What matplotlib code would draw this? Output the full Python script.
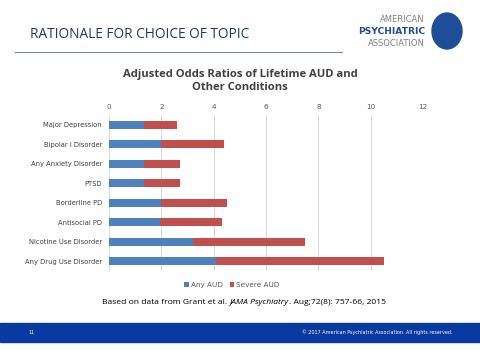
import matplotlib
matplotlib.use("Agg")
import matplotlib.pyplot as plt
from matplotlib.patches import Rectangle, Ellipse

categories = ["Major Depression", "Bipolar I Disorder", "Any Anxiety Disorder", "PTSD",
              "Borderline PD", "Antisocial PD", "Nicotine Use Disorder", "Any Drug Use Disorder"]
any_aud = [1.35, 2.0, 1.35, 1.35, 2.0, 1.95, 3.2, 4.1]
severe_aud = [2.6, 4.4, 2.7, 2.7, 4.5, 4.3, 7.5, 10.5]
xticks = [0, 2, 4, 6, 8, 10, 12]

BLUE = "#4f81bd"
RED = "#c0504d"

fig = plt.figure(figsize=(4.8, 3.6), dpi=100)
fig.patch.set_facecolor("white")

# Slide header
fig.text(30/480, 1-34/360, "RATIONALE FOR CHOICE OF TOPIC", fontsize=9.8, color="#1f3864",
         va="center", ha="left", family="Open Sans")
fig.add_artist(plt.Line2D([15/480, 342/480], [1-52/360, 1-52/360], color="#7f8a99", lw=0.8))
fig.text(425/480, 1-20/360, "AMERICAN", fontsize=6.0, color="#7f7f7f", ha="right", va="center")
fig.text(425/480, 1-32/360, "PSYCHIATRIC", fontsize=6.6, color="#1f4e99", ha="right", va="center", weight="bold")
fig.text(425/480, 1-44/360, "ASSOCIATION", fontsize=6.0, color="#7f7f7f", ha="right", va="center")
fig.add_artist(Ellipse((447/480, 1-31/360), 30/480, 36/360, transform=fig.transFigure, color="#1f4e99"))

# Footer band
fig.add_artist(Rectangle((0, 1-342/360), 1, 19/360, transform=fig.transFigure, color="#0a3aa0"))
fig.text(28/480, 1-332/360, "11", fontsize=3.5, color="white", va="center")
fig.text(452/480, 1-332/360, "© 2017 American Psychiatric Association. All rights reserved.",
         fontsize=3.5, color="white", va="center", ha="right")

# Chart title
fig.text(240/480, 1-81/360, "Adjusted Odds Ratios of Lifetime AUD and\nOther Conditions",
         fontsize=8.1, weight="bold", color="#404040", ha="center", va="center",
         family="Open Sans", linespacing=1.3)

ax = fig.add_axes([109/480, 1-271/360, 314/480, 156/360])
y = list(range(len(categories)))
ax.barh(y, severe_aud, height=0.42, color=RED, label="Severe AUD", zorder=2)
ax.barh(y, any_aud, height=0.42, color=BLUE, label="Any AUD", zorder=3)
ax.set_xlim(0, 12)
ax.set_ylim(len(categories)-0.5, -0.5)
ax.set_xticks(xticks)
ax.set_yticks(y)
ax.set_yticklabels(categories)
ax.xaxis.tick_top()
ax.tick_params(axis="x", length=0, labelsize=5.2, labelcolor="#595959", pad=3.5)
ax.tick_params(axis="y", length=0, labelsize=4.9, labelcolor="#404040", pad=5)
ax.grid(axis="x", color="#d9d9d9", lw=0.7, zorder=0)
for s in ax.spines.values():
    s.set_visible(False)

h, l = ax.get_legend_handles_labels()
fig.legend([h[1], h[0]], [l[1], l[0]], loc="center", bbox_to_anchor=(232/480, 1-285/360),
           ncol=2, frameon=False, fontsize=5.2, handlelength=0.6, handleheight=0.6,
           columnspacing=1.0, handletextpad=0.3, labelcolor="#595959")

# Footnote, placed piece by piece
parts = [("Based on data from Grant et al. ", "normal"), ("JAMA Psychiatry", "italic"),
         (". Aug;72(8): 757-66, 2015", "normal")]
fig.canvas.draw()
r = fig.canvas.get_renderer()
texts = [fig.text(0, 1-303/360, s, fontsize=6.1, style=st, va="center", ha="left",
                  family="Open Sans", color="black") for s, st in parts]
widths = [t.get_window_extent(r).width for t in texts]
x0 = 244 - sum(widths) / 2
for t, w in zip(texts, widths):
    t.set_x(x0 / 480)
    x0 += w

fig.savefig("out.png", dpi=100)
